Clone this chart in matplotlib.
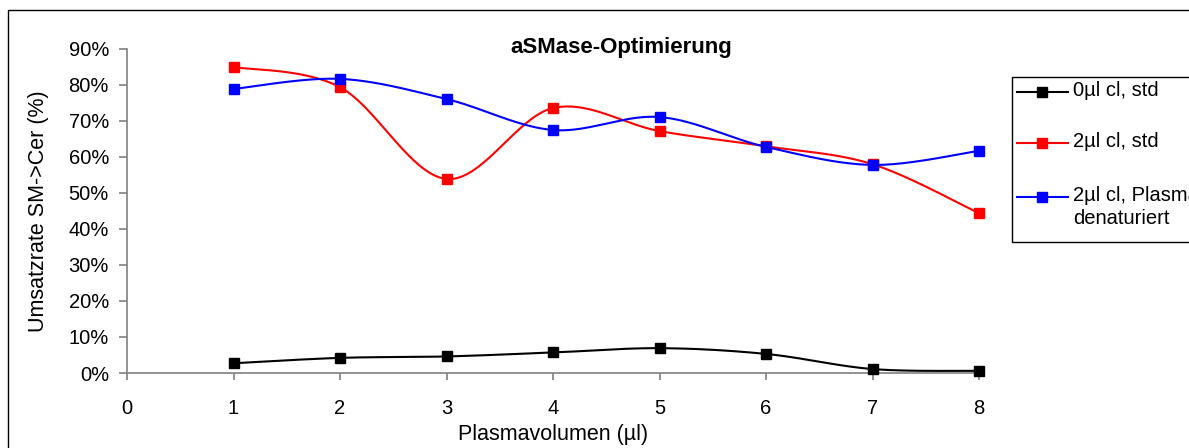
import numpy as np
import matplotlib
matplotlib.use("Agg")
import matplotlib.pyplot as plt
from matplotlib.lines import Line2D
from matplotlib.patches import Rectangle

plt.rcParams['font.family'] = ['Liberation Sans', 'DejaVu Sans']

volumes = [1, 2, 3, 4, 5, 6, 7, 8]
std_0ul = [2.7, 4.2, 4.6, 5.7, 6.9, 5.3, 1.1, 0.6]
std_2ul = [85.0, 79.4, 53.9, 73.6, 67.2, 63.0, 58.0, 44.4]
denat_2ul = [78.9, 81.7, 76.1, 67.5, 71.1, 62.8, 57.8, 61.7]

series_labels = ["0µl cl, std", "2µl cl, std", "2µl cl, Plasma\ndenaturiert"]
series_colors = ["black", "red", "blue"]

x_ticks = list(range(0, 9))
y_ticks = list(range(0, 100, 10))
y_ticklabels = [f"{v}%" for v in y_ticks]

W, H = 1189, 448


def smooth(xs, ys, n=40):
    # bezier smoothing through every point, tangent = (next - prev) / 6
    p = np.column_stack([xs, ys]).astype(float)
    out = []
    for i in range(len(p) - 1):
        p0 = p[i - 1] if i > 0 else p[i]
        p1, p2 = p[i], p[i + 1]
        p3 = p[i + 2] if i + 2 < len(p) else p[i + 1]
        c1 = p1 + (p2 - p0) / 6
        c2 = p2 - (p3 - p1) / 6
        t = np.linspace(0, 1, n)[:, None]
        seg = ((1 - t) ** 3 * p1 + 3 * (1 - t) ** 2 * t * c1
               + 3 * (1 - t) * t ** 2 * c2 + t ** 3 * p2)
        out.append(seg if i == 0 else seg[1:])
    s = np.vstack(out)
    return s[:, 0], s[:, 1]


fig = plt.figure(figsize=(W / 100, H / 100), dpi=100)
ax = fig.add_axes([127 / W, 1 - 373 / H, (979 - 127) / W, (373 - 49) / H])

for vals, col in zip([std_0ul, std_2ul, denat_2ul], series_colors):
    sx, sy = smooth(volumes, vals)
    ax.plot(sx, sy, color=col, lw=1.5, zorder=3)
    ax.plot(volumes, vals, ls='none', marker='s', ms=7.5, color=col, zorder=4, clip_on=False)

ax.set_xlim(0, 8)
ax.set_ylim(0, 90)
ax.set_xticks(x_ticks)
ax.set_yticks(y_ticks)
ax.set_yticklabels(y_ticklabels)
for side in ['top', 'right']:
    ax.spines[side].set_visible(False)
for side in ['left', 'bottom']:
    ax.spines[side].set_color('#808080')
    ax.spines[side].set_linewidth(1.2)
ax.tick_params(axis='y', direction='out', length=6, width=1.2, color='#808080', pad=7, labelsize=14.5)
ax.tick_params(axis='x', direction='out', length=5, width=1.2, color='#808080', pad=14, labelsize=14.5)

ax.set_xlabel("Plasmavolumen (µl)", fontsize=15.5, labelpad=4)
ax.set_ylabel("Umsatzrate SM->Cer (%)", fontsize=15.5, labelpad=14)

fig.text(621 / W, 1 - 47 / H, "aSMase-Optimierung", ha='center', va='center',
         fontsize=16, fontweight='bold')

# outer chart frame
fig.add_artist(Rectangle((8 / W, -0.1), 1.2, 1 - 10 / H + 0.1, transform=fig.transFigure,
                         fill=False, edgecolor='black', lw=1, clip_on=False))

# legend box
fig.add_artist(Rectangle((1012 / W, 1 - 242 / H), 0.2, (242 - 77) / H, transform=fig.transFigure,
                         fill=False, edgecolor='black', lw=1, clip_on=False))
legend_rows = [92, 143, 197]
for label, col, yp in zip(series_labels, series_colors, legend_rows):
    yf = 1 - yp / H
    fig.add_artist(Line2D([1017 / W, 1068 / W], [yf, yf], color=col, lw=1.5,
                          transform=fig.transFigure))
    fig.add_artist(Line2D([1042 / W], [yf], color=col, marker='s', ms=7.5,
                          transform=fig.transFigure))
    fig.text(1073 / W, yf + 11 / H, label, ha='left', va='top', fontsize=14.5,
             linespacing=1.3)

fig.savefig("out.png", dpi=100)
